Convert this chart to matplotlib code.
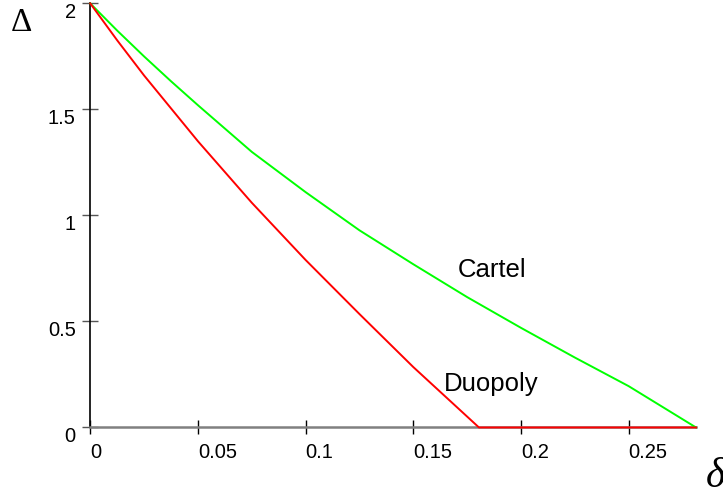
import matplotlib
matplotlib.use("Agg")
import matplotlib.pyplot as plt

plt.rcParams['font.family'] = ['Liberation Sans', 'DejaVu Sans']

# values
cartel_x = [0, 0.0125, 0.025, 0.0375, 0.05, 0.075, 0.1, 0.125, 0.15, 0.175, 0.2, 0.225, 0.25, 0.2813]
cartel_y = [2, 1.872, 1.75, 1.633, 1.52, 1.30, 1.11, 0.93, 0.77, 0.615, 0.47, 0.33, 0.195, 0]

duopoly_x = [0, 0.0125, 0.025, 0.05, 0.075, 0.1, 0.125, 0.15, 0.1805, 0.2813]
duopoly_y = [2, 1.826, 1.66, 1.35, 1.06, 0.79, 0.535, 0.285, 0, 0]

xticks = [0, 0.05, 0.1, 0.15, 0.2, 0.25]
xlabels = ['0', '0.05', '0.1', '0.15', '0.2', '0.25']
yticks = [0, 0.5, 1, 1.5, 2]
ylabels = ['0', '0.5', '1', '1.5', '2']

fig = plt.figure(figsize=(7.23, 4.9), dpi=100)
ax = fig.add_axes([0.1249, 0.1276, 0.9627 - 0.1249, 0.9929 - 0.1276])

ax.plot(cartel_x, cartel_y, color='#00ff00', lw=1.4, clip_on=False, zorder=3)
ax.plot(duopoly_x, duopoly_y, color='#ff0000', lw=1.4, clip_on=False, zorder=4)

ax.set_xlim(0, 0.2813)
ax.set_ylim(0, 2)

for s in ['top', 'right']:
    ax.spines[s].set_visible(False)
ax.spines['left'].set_color('black')
ax.spines['left'].set_linewidth(1.2)
ax.spines['bottom'].set_color('#808080')
ax.spines['bottom'].set_linewidth(1.8)

ax.set_xticks(xticks)
ax.set_xticklabels(xlabels, fontsize=14.5, ha='left')
ax.set_yticks(yticks)
ax.set_yticklabels(ylabels, fontsize=14.5, va='top')
ax.tick_params(axis='x', direction='inout', length=10, width=1, color='black', pad=6)
ax.tick_params(axis='y', direction='inout', length=11, width=1, color='#555555', pad=5)

ax.text(0.1708, 0.708, 'Cartel', fontsize=18.5, ha='left', va='baseline')
ax.text(0.164, 0.174, 'Duopoly', fontsize=18.5, ha='left', va='baseline')

fig.text(11 / 723, 1 - 31 / 490, 'Δ', family=['Liberation Serif', 'DejaVu Serif'],
         fontsize=24, ha='left', va='baseline')
fig.text(706 / 723, 1 - 487 / 490, 'δ', family=['Liberation Serif', 'DejaVu Serif'],
         style='italic', fontsize=30, ha='left', va='baseline')

fig.savefig('out.png', dpi=100)
